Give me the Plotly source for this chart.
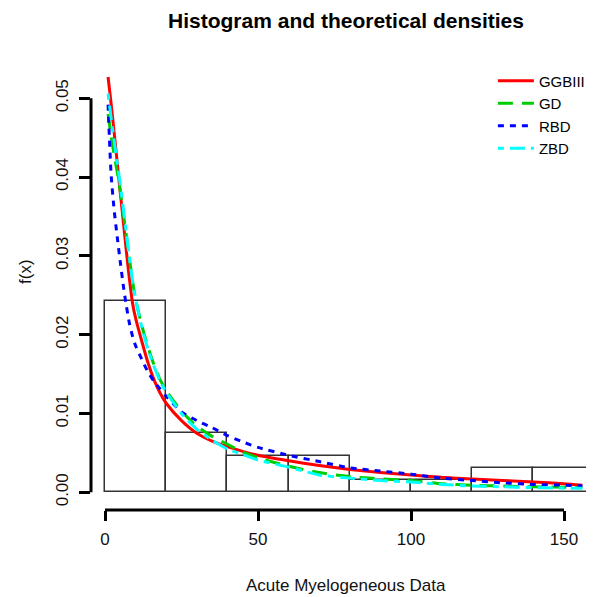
import plotly.graph_objects as go

# ---------------- data ----------------
bin_breaks = [0, 20, 40, 60, 80, 100, 120, 140, 160]
bin_counts = [16, 5, 3, 3, 1, 1, 2, 2]
n_obs = 33

x_grid = [1, 2, 3, 4, 5, 6, 7, 8, 9, 10, 12, 14, 16, 18, 20, 25, 30, 35, 40, 45,
          50, 60, 70, 80, 90, 100, 110, 120, 130, 140, 150, 156]

ggbiii = [0.0527, 0.0493, 0.0456, 0.0418, 0.0380, 0.0343, 0.0305, 0.0270, 0.0240, 0.0221,
          0.0192, 0.0165, 0.0143, 0.0126, 0.0113, 0.0091, 0.0075, 0.0065, 0.0058, 0.0052,
          0.0047, 0.0040, 0.0034, 0.0029, 0.0025, 0.0022, 0.0019, 0.0017, 0.0015, 0.0013,
          0.0011, 0.0009]
gd = [0.0480, 0.0452, 0.0428, 0.0406, 0.0382, 0.0354, 0.0325, 0.0296, 0.0268, 0.0245,
      0.0212, 0.0185, 0.0162, 0.0143, 0.0129, 0.0103, 0.0084, 0.0071, 0.0061, 0.0051,
      0.0044, 0.0033, 0.0025, 0.0020, 0.0017, 0.0015, 0.0011, 0.0009, 0.0008, 0.0007,
      0.00065, 0.0006]
rbd = [0.0492, 0.0403, 0.0358, 0.0324, 0.0292, 0.0262, 0.0236, 0.0214, 0.0198, 0.0186,
       0.0169, 0.0153, 0.0141, 0.0131, 0.0122, 0.0102, 0.0091, 0.0082, 0.0072, 0.0064,
       0.0057, 0.0047, 0.0039, 0.0031, 0.0027, 0.0023, 0.0018, 0.0015, 0.0012, 0.0010,
       0.0009, 0.0008]
zbd = [0.0506, 0.0475, 0.0446, 0.0418, 0.0390, 0.0360, 0.0328, 0.0297, 0.0268, 0.0245,
       0.0210, 0.0182, 0.0160, 0.0141, 0.0127, 0.0100, 0.0080, 0.0066, 0.0055, 0.0048,
       0.0041, 0.0032, 0.0022, 0.0018, 0.0015, 0.0013, 0.0010, 0.0008, 0.0007, 0.0006,
       0.00053, 0.0005]

x_ticks = [0, 50, 100, 150]
y_ticks = [0.00, 0.01, 0.02, 0.03, 0.04, 0.05]
y_tick_text = ["0.00", "0.01", "0.02", "0.03", "0.04", "0.05"]

# ---------------- figure ----------------
FONT = "Liberation Sans, Arial, sans-serif"
W, H = 586, 589          # page body has an 8px margin
bw = bin_breaks[1] - bin_breaks[0]
centers = [(a + b) / 2 for a, b in zip(bin_breaks[:-1], bin_breaks[1:])]
dens = [c / (n_obs * bw) for c in bin_counts]

fig = go.Figure()
fig.add_trace(go.Bar(x=centers, y=dens, width=[bw] * len(centers),
                     marker=dict(color="rgba(255,255,255,0)",
                                 line=dict(color="#333333", width=1.5)),
                     showlegend=False, hoverinfo="skip"))

series = [
    ("GGBIII", ggbiii, "#FF0000", "solid"),
    ("GD", gd, "#00CD00", "15px,9px"),
    ("RBD", rbd, "#0000FF", "6px,6px"),
    ("ZBD", zbd, "#00FFFF", "6px,6px,15px,6px"),
]
for name, ys, col, dash in series:
    fig.add_trace(go.Scatter(x=x_grid, y=ys, mode="lines", name=name,
                             line=dict(color=col, width=3, dash=dash,
                                       shape="spline", smoothing=0.6)))

# R-style axis lines spanning first..last tick
fig.add_shape(type="line", xref="x", yref="paper", x0=x_ticks[0], x1=x_ticks[-1],
              y0=0, y1=0, line=dict(color="black", width=3))
fig.add_shape(type="line", xref="paper", yref="y", x0=0, x1=0,
              y0=y_ticks[0], y1=y_ticks[-1], line=dict(color="black", width=3))

fig.update_layout(
    width=W, height=H,
    margin=dict(l=83, r=0, t=24, b=87),
    paper_bgcolor="white", plot_bgcolor="white",
    font=dict(family=FONT, color="black"),
    bargap=0,
    title=dict(text="Histogram and theoretical densities", x=338 / W, xanchor="center",
               y=1 - 13 / H, yanchor="middle",
               font=dict(family=FONT, size=21, color="black", weight="bold")),
    xaxis=dict(range=[-4.575, 159.8], showgrid=False, zeroline=False, showline=False,
               tickmode="array", tickvals=x_ticks, ticks="outside", ticklen=10,
               tickwidth=3, tickcolor="black", tickfont=dict(size=17, color="#111"),
               ticklabelstandoff=4),
    yaxis=dict(range=[-0.002246, 0.05841], showgrid=False, zeroline=False, showline=False,
               tickmode="array", tickvals=y_ticks, ticktext=y_tick_text, ticks="outside",
               ticklen=11, tickwidth=3, tickcolor="black", tickangle=-90,
               tickfont=dict(size=17, color="#111"), ticklabelstandoff=4),
    legend=dict(x=0.799, y=0.932, xanchor="left", yanchor="top", itemwidth=36,
                bgcolor="rgba(255,255,255,0)", borderwidth=0,
                font=dict(family=FONT, size=15, color="black")),
    showlegend=True,
    annotations=[
        dict(text="Acute Myelogeneous Data", xref="paper", yref="paper",
             x=(346 - 91) / 503, y=(510 - 585) / 478, xanchor="center", yanchor="middle",
             showarrow=False, font=dict(family=FONT, size=17, color="#111")),
        dict(text="f(x)", xref="paper", yref="paper", textangle=-90,
             x=(25 - 91) / 503, y=(510 - 272) / 478, xanchor="center", yanchor="middle",
             showarrow=False, font=dict(family=FONT, size=17, color="#111")),
    ],
)

fig.write_html("out.html")
